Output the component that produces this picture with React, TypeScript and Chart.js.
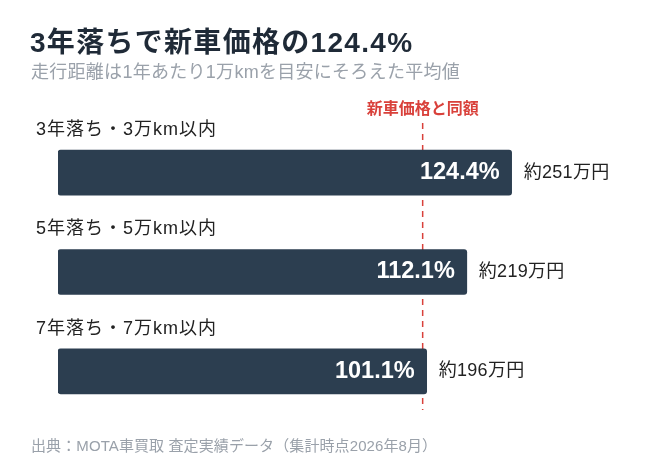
import { useEffect, useRef } from "react"
import { Chart, registerables } from "chart.js"

// Register Chart.js components
Chart.register(...registerables)

// Helvetica-like latin glyphs, CJK glyphs fall back to Noto
const FONT = "'Liberation Sans', 'Noto Sans CJK JP', sans-serif"

const titleText = "3年落ちで新車価格の124.4%"
const subtitleText = "走行距離は1年あたり1万kmを目安にそろえた平均値"
const sourceText = "出典：MOTA車買取 査定実績データ（集計時点2026年8月）"

const categories = ["3年落ち・3万km以内", "5年落ち・5万km以内", "7年落ち・7万km以内"]
const ratios = [124.4, 112.1, 101.1]
const prices = ["約251万円", "約219万円", "約196万円"]

const referenceValue = 100
const referenceLabel = "新車価格と同額"

function drawText(ctx: CanvasRenderingContext2D, text: string, x: number, y: number, font: string, color: string, align: CanvasTextAlign, spacing = 0) {
  ctx.font = font
  ctx.fillStyle = color
  ctx.textAlign = align
  ;(ctx as any).letterSpacing = `${spacing}px`
  ctx.fillText(text, x, y)
  ;(ctx as any).letterSpacing = "0px"
}

export default function App() {
  const chartRef = useRef<HTMLCanvasElement>(null)
  const chartInstance = useRef<Chart | null>(null)

  useEffect(() => {
    if (!chartRef.current) return
    if (chartInstance.current) chartInstance.current.destroy()

    const ctx = chartRef.current.getContext("2d")
    if (!ctx) return

    // reference line goes behind the bars
    const referencePlugin = {
      id: "reference",
      beforeDatasetsDraw(chart: Chart) {
        const { ctx, chartArea, scales } = chart
        const x = scales.x.getPixelForValue(referenceValue)
        ctx.save()
        ctx.strokeStyle = "#d9413b"
        ctx.lineWidth = 1.5
        ctx.setLineDash([6, 5])
        ctx.beginPath()
        ctx.moveTo(x, chartArea.top)
        ctx.lineTo(x, chartArea.bottom - 11)
        ctx.stroke()
        ctx.setLineDash([])
        ctx.textBaseline = "middle"
        drawText(ctx, referenceLabel, x, chartArea.top - 13, `bold 16px ${FONT}`, "#d9413b", "center")
        ctx.restore()
      },
    }

    // titles, category labels and bar labels
    const labelsPlugin = {
      id: "labels",
      afterDatasetsDraw(chart: Chart) {
        const { ctx, chartArea } = chart
        ctx.save()
        ctx.textBaseline = "middle"

        drawText(ctx, titleText, 30, 44, `bold 28px ${FONT}`, "#1f2a37", "left", 1.3)
        drawText(ctx, subtitleText, 31, 73, `18px ${FONT}`, "#9aa1aa", "left", 0.28)
        drawText(ctx, sourceText, 31, 447, `15px ${FONT}`, "#9aa1aa", "left", 0.1)

        const meta = chart.getDatasetMeta(0)
        meta.data.forEach((bar: any, i: number) => {
          const top = bar.y - bar.height / 2
          drawText(ctx, categories[i], chartArea.left - 22, top - 20, `18px ${FONT}`, "#222222", "left", 1)
          drawText(ctx, `${ratios[i].toFixed(1)}%`, bar.x - 12, bar.y, `bold 23.5px ${FONT}`, "#ffffff", "right")
          drawText(ctx, prices[i], bar.x + 12, bar.y, `18px ${FONT}`, "#222222", "left", 0.3)
        })
        ctx.restore()
      },
    }

    chartInstance.current = new Chart(ctx, {
      type: "bar",
      data: {
        labels: categories,
        datasets: [
          {
            data: ratios,
            backgroundColor: "#2c3e50",
            borderRadius: 3,
            borderSkipped: false,
            barThickness: 45,
          },
        ],
      },
      options: {
        indexAxis: "y",
        animation: false,
        responsive: true,
        maintainAspectRatio: false,
        layout: { padding: { left: 58, right: 41, top: 123, bottom: 53 } },
        scales: {
          x: { display: false, min: 0, max: 150 },
          y: { display: false },
        },
        plugins: {
          legend: { display: false },
          tooltip: { enabled: false },
        },
      },
      plugins: [referencePlugin, labelsPlugin],
    })

    return () => {
      if (chartInstance.current) {
        chartInstance.current.destroy()
        chartInstance.current = null
      }
    }
  }, [])

  return (
    <div style={{ position: "absolute", left: 0, top: 0, width: 646, height: 474, background: "#ffffff" }}>
      <canvas ref={chartRef} />
    </div>
  )
}
